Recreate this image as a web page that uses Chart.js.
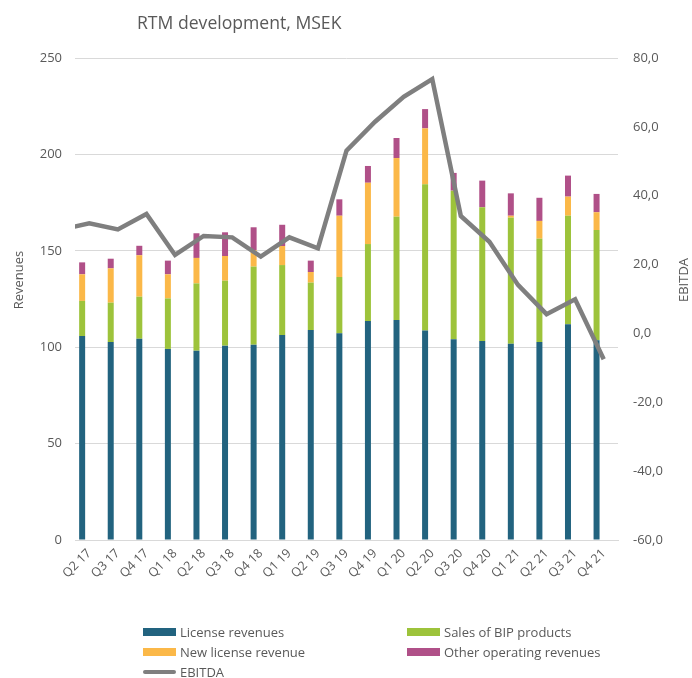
<!DOCTYPE html>
<html>
<head>
<meta charset="utf-8">
<script src="https://cdn.jsdelivr.net/npm/chart.js@4.4.1/dist/chart.umd.min.js"></script>
<style>
  html, body { margin: 0; padding: 0; background: #fff; }
  #wrap { position: relative; width: 692px; height: 678px; font-family: 'Open Sans', sans-serif; color: #595959; }
  #title { position: absolute; left: 137px; top: 10px; font-size: 17.6px; white-space: nowrap; }
  #legend { position: absolute; left: 143px; top: 622px; display: grid; grid-template-columns: 264px auto; font-size: 13px; }
  .legend-item { display: flex; align-items: center; height: 20px; white-space: nowrap; }
  .legend-swatch { width: 33px; height: 8px; margin-right: 4px; }
  .legend-line { height: 4px; border-radius: 2px; }
</style>
</head>
<body>
<div id="wrap">
  <canvas id="chart" width="692" height="678"></canvas>
  <div id="title">RTM development, MSEK</div>
  <div id="legend"></div>
</div>
<script>
const quarters = ['Q2 17', 'Q3 17', 'Q4 17', 'Q1 18', 'Q2 18', 'Q3 18', 'Q4 18', 'Q1 19', 'Q2 19', 'Q3 19',
  'Q4 19', 'Q1 20', 'Q2 20', 'Q3 20', 'Q4 20', 'Q1 21', 'Q2 21', 'Q3 21', 'Q4 21'];

const licenseRevenues = [105.8, 102.7, 104.4, 99.1, 98.2, 100.8, 101.3, 106.3, 108.9, 107.2,
  113.6, 114.1, 108.6, 104.1, 103.2, 101.8, 102.7, 111.9, 103.6];
const bipSales = [18.2, 20.4, 21.8, 26.2, 34.9, 33.7, 40.5, 36.3, 24.6, 29.2,
  39.9, 53.6, 75.9, 77.1, 69.4, 65.4, 53.6, 56.3, 57.2];
const newLicense = [13.8, 17.8, 21.5, 12.5, 13.2, 12.8, 8.6, 9.9, 5.5, 31.8,
  31.8, 30.4, 29.0, 0, 0, 1.0, 9.2, 9.9, 9.2];
const otherRevenues = [6.2, 5.0, 4.9, 7.1, 12.8, 12.3, 11.8, 11.0, 5.9, 8.5,
  8.7, 10.4, 10.0, 9.2, 13.8, 11.6, 12.0, 10.9, 9.5];

const ebitda = [32.0, 30.2, 34.7, 22.8, 28.3, 27.9, 22.3, 27.9, 24.7, 53.1,
  61.5, 68.7, 73.9, 34.1, 26.6, 14.1, 5.6, 9.9, -7.5];
// quarter before Q2 17, outside the axis: only its clipped lead-in segment shows
const ebitdaPrev = 30.1;

const revenueTicks = { min: 0, max: 250, step: 50 };
const ebitdaTicks = { min: -60, max: 80, step: 20 };

const TEXT = '#595959';
const GRID = '#D9D9D9';

const axisTitles = {
  id: 'axisTitles',
  afterDraw(chart) {
    const { ctx } = chart;
    ctx.save();
    ctx.fillStyle = TEXT;
    ctx.font = '13px "Open Sans", sans-serif';
    ctx.textAlign = 'center';
    ctx.textBaseline = 'middle';
    ctx.translate(19, 280);
    ctx.rotate(-Math.PI / 2);
    ctx.fillText('Revenues', 0, 0);
    ctx.restore();
    ctx.save();
    ctx.fillStyle = TEXT;
    ctx.font = '13px "Open Sans", sans-serif';
    ctx.textAlign = 'center';
    ctx.textBaseline = 'middle';
    ctx.translate(684, 280);
    ctx.rotate(-Math.PI / 2);
    ctx.fillText('EBITDA', 0, 0);
    ctx.restore();
  }
};

Chart.defaults.font.family = "'Open Sans', sans-serif";
Chart.defaults.color = TEXT;

const barDefaults = {
  type: 'bar',
  xAxisID: 'x',
  yAxisID: 'y',
  stack: 'rev',
  order: 1,
  barPercentage: 0.42,
  categoryPercentage: 1,
  borderWidth: 0
};

const chart = new Chart(document.getElementById('chart'), {
  data: {
    labels: quarters,
    datasets: [
      { ...barDefaults, label: 'License revenues', data: licenseRevenues, backgroundColor: '#22637F' },
      { ...barDefaults, label: 'Sales of BIP products', data: bipSales, backgroundColor: '#9DC33B' },
      { ...barDefaults, label: 'New license revenue', data: newLicense, backgroundColor: '#FBB848' },
      { ...barDefaults, label: 'Other operating revenues', data: otherRevenues, backgroundColor: '#B05088' },
      {
        type: 'line',
        label: 'EBITDA',
        xAxisID: 'x2',
        yAxisID: 'y2',
        order: 0,
        data: [{ x: -1, y: ebitdaPrev }].concat(ebitda.map((v, i) => ({ x: i, y: v }))),
        borderColor: '#7F7F7F',
        borderWidth: 4.5,
        pointRadius: 0,
        tension: 0,
        fill: false
      }
    ]
  },
  options: {
    responsive: false,
    animation: false,
    layout: { padding: { top: 58, left: 0, right: 0, bottom: 0 } },
    scales: {
      x: {
        type: 'category',
        offset: true,
        grid: { display: false, drawTicks: false },
        border: { color: GRID },
        ticks: { color: TEXT, font: { size: 12.5 }, maxRotation: 45, minRotation: 45, autoSkip: false, padding: 6 },
        afterFit(s) { s.height = 138; }
      },
      x2: { type: 'linear', display: false, min: -0.5, max: quarters.length - 0.5, offset: false },
      y: {
        position: 'left',
        stacked: true,
        min: revenueTicks.min,
        max: revenueTicks.max,
        ticks: { stepSize: revenueTicks.step, color: TEXT, font: { size: 13 }, padding: 13 },
        grid: { color: GRID, drawTicks: false },
        border: { display: false },
        afterFit(s) { s.width = 75; }
      },
      y2: {
        position: 'right',
        min: ebitdaTicks.min,
        max: ebitdaTicks.max,
        ticks: {
          stepSize: ebitdaTicks.step, color: TEXT, font: { size: 13 }, padding: 15,
          callback: v => v.toFixed(1).replace('.', ',')
        },
        grid: { display: false, drawTicks: false },
        border: { display: false },
        afterFit(s) { s.width = 74; }
      }
    },
    plugins: {
      legend: { display: false },
      tooltip: { enabled: false }
    }
  },
  plugins: [axisTitles]
});

// legend in the reference's two-column order
const legendOrder = [0, 1, 2, 3, 4];
document.getElementById('legend').innerHTML = legendOrder.map(i => {
  const ds = chart.data.datasets[i];
  const isLine = ds.type === 'line';
  const sw = isLine
    ? `<span class="legend-swatch legend-line" style="background:${ds.borderColor}"></span>`
    : `<span class="legend-swatch" style="background:${ds.backgroundColor}"></span>`;
  return `<div class="legend-item">${sw}<span>${ds.label}</span></div>`;
}).join('');
</script>
</body>
</html>
